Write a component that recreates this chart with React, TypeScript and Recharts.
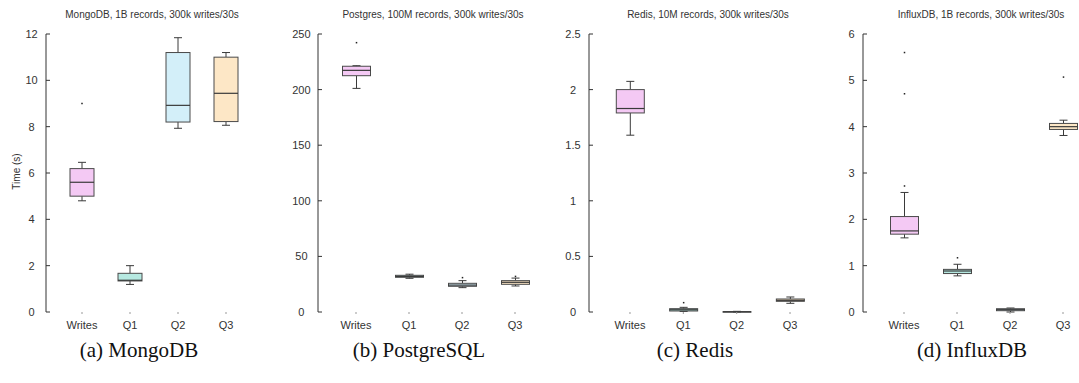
import React from 'react'
import { ComposedChart, Bar, XAxis, YAxis } from 'recharts'

const categories = ['Writes', 'Q1', 'Q2', 'Q3']

// [min, q1, median, q3, max] for each category
const mongoStats = [
  [4.8, 5.0, 5.6, 6.19, 6.46],
  [1.19, 1.34, 1.37, 1.67, 2.0],
  [7.93, 8.2, 8.92, 11.2, 11.84],
  [8.06, 8.22, 9.44, 11.0, 11.2],
]
const mongoOutliers = [[9.0], [], [], []]

const postgresStats = [
  [201.1, 212.5, 217.3, 221.0, 221.5],
  [30.3, 31.2, 32.0, 33.0, 34.0],
  [21.9, 23.1, 24.2, 25.8, 28.2],
  [23.4, 24.9, 26.7, 28.2, 30.5],
]
const postgresOutliers = [[242.2], [], [30.9], [32.0]]

const redisStats = [
  [1.59, 1.79, 1.83, 2.0, 2.074],
  [0.005, 0.009, 0.02, 0.03, 0.042],
  [0.0, 0.001, 0.002, 0.003, 0.006],
  [0.078, 0.096, 0.105, 0.117, 0.135],
]
const redisOutliers = [[], [0.084], [], []]

const influxStats = [
  [1.6, 1.68, 1.75, 2.06, 2.58],
  [0.78, 0.83, 0.885, 0.92, 1.03],
  [0.0, 0.028, 0.05, 0.071, 0.086],
  [3.81, 3.94, 4.0, 4.07, 4.14],
]
const influxOutliers = [[5.6, 4.71, 2.72], [1.17], [], [5.07]]

const mongoTicks = [0, 2, 4, 6, 8, 10, 12]
const postgresTicks = [0, 50, 100, 150, 200, 250]
const redisTicks = [0, 0.5, 1, 1.5, 2, 2.5]
const influxTicks = [0, 1, 2, 3, 4, 5, 6]

const boxColors = ['#f4c9f4', '#b6e9e1', '#d3eff9', '#fde7c6']
const ink = '#3a3a3a'
const font = '"Liberation Sans", Arial, sans-serif'

function toRows(stats: number[][], outliers: number[][]) {
  return categories.map((name, i) => {
    const [min, q1, med, q3, max] = stats[i]
    const all = [min, max, ...outliers[i]]
    return {
      name,
      min,
      q1,
      med,
      q3,
      max,
      outliers: outliers[i],
      lo: Math.min(...all),
      hi: Math.max(...all),
    }
  })
}

const panels = [
  {
    title: 'MongoDB, 1B records, 300k writes/30s',
    caption: '(a) MongoDB',
    rows: toRows(mongoStats, mongoOutliers),
    ticks: mongoTicks,
    left: 0, width: 262, yWidth: 46, pad: 12, barSize: 24, tickMargin: 18.4,
    titleX: 152, captionX: 139,
  },
  {
    title: 'Postgres, 100M records, 300k writes/30s',
    caption: '(b) PostgreSQL',
    rows: toRows(postgresStats, postgresOutliers),
    ticks: postgresTicks,
    left: 270, width: 283, yWidth: 48, pad: 11.5, barSize: 28, tickMargin: 20.6,
    titleX: 433, captionX: 419,
  },
  {
    title: 'Redis, 10M records, 300k writes/30s',
    caption: '(c) Redis',
    rows: toRows(redisStats, redisOutliers),
    ticks: redisTicks,
    left: 540, width: 291, yWidth: 49, pad: 14.3, barSize: 28, tickMargin: 20,
    titleX: 708, captionX: 695,
  },
  {
    title: 'InfluxDB, 1B records, 300k writes/30s',
    caption: '(d) InfluxDB',
    rows: toRows(influxStats, influxOutliers),
    ticks: influxTicks,
    left: 810, width: 294, yWidth: 53, pad: 14.5, barSize: 28, tickMargin: 15.4,
    titleX: 981, captionX: 972,
  },
]

function BoxShape(props: any) {
  const { x, y, width, height, payload, index } = props
  if (!payload) return null
  const top = Math.min(y, y + height)
  const bottom = Math.max(y, y + height)
  const span = payload.hi - payload.lo || 1
  // map a value into the bar's pixel extent, which the y scale already placed
  const py = (v: number) => bottom - ((v - payload.lo) / span) * (bottom - top)
  const cx = x + width / 2
  const cap = 4
  const yq1 = py(payload.q1)
  const yq3 = py(payload.q3)
  return (
    <g>
      <line x1={cx} x2={cx} y1={py(payload.max)} y2={yq3} stroke={ink} strokeWidth={1} />
      <line x1={cx} x2={cx} y1={yq1} y2={py(payload.min)} stroke={ink} strokeWidth={1} />
      <line x1={cx - cap} x2={cx + cap} y1={py(payload.max)} y2={py(payload.max)} stroke={ink} />
      <line x1={cx - cap} x2={cx + cap} y1={py(payload.min)} y2={py(payload.min)} stroke={ink} />
      <rect
        x={x}
        y={yq3}
        width={width}
        height={Math.max(yq1 - yq3, 0.5)}
        fill={boxColors[index % boxColors.length]}
        stroke="#4a4a4a"
        strokeWidth={1}
      />
      <line x1={x} x2={x + width} y1={py(payload.med)} y2={py(payload.med)} stroke={ink} strokeWidth={1.2} />
      {payload.outliers.map((o: number, k: number) => (
        <rect key={k} x={cx - 0.75} y={py(o) - 0.75} width={1.5} height={1.5} fill="#222" />
      ))}
    </g>
  )
}

function YTick(props: any) {
  const { x, y, payload } = props
  return (
    <text x={x} y={y} dy="0.355em" textAnchor="middle" fontSize={11} fill="#333" fontFamily={font}>
      {payload.value}
    </text>
  )
}

export default function App() {
  return (
    <div
      style={{
        position: 'absolute',
        left: 0,
        top: 0,
        width: 1079,
        height: 383,
        overflow: 'hidden',
        background: '#fff',
        fontFamily: font,
      }}
    >
      {panels.map((p) => (
        <div key={p.title} style={{ position: 'absolute', left: p.left, top: 0 }}>
          <ComposedChart
            width={p.width}
            height={340}
            data={p.rows}
            margin={{ top: 34, right: 0, bottom: 0, left: 0 }}
          >
            <XAxis
              dataKey="name"
              axisLine={false}
              tickLine={{ stroke: '#999' }}
              tickSize={2}
              tickMargin={7}
              interval={0}
              height={28}
              padding={{ left: p.pad, right: p.pad }}
              tick={{ fontSize: 11, fill: '#333', fontFamily: font }}
            />
            <YAxis
              type="number"
              width={p.yWidth}
              domain={[p.ticks[0], p.ticks[p.ticks.length - 1]]}
              ticks={p.ticks}
              interval={0}
              axisLine={{ stroke: '#333' }}
              tickLine={{ stroke: '#333' }}
              tickSize={-4}
              tickMargin={p.tickMargin}
              tick={<YTick />}
            />
            <Bar
              dataKey={(d: any) => [d.lo, d.hi]}
              barSize={p.barSize}
              shape={<BoxShape />}
              isAnimationActive={false}
            />
          </ComposedChart>
        </div>
      ))}
      {panels.map((p) => (
        <div
          key={p.title + '-t'}
          style={{
            position: 'absolute',
            left: p.titleX - 150,
            width: 300,
            top: 9,
            textAlign: 'center',
            fontSize: 10,
            color: '#333',
            whiteSpace: 'nowrap',
          }}
        >
          {p.title}
        </div>
      ))}
      <div
        style={{
          position: 'absolute',
          left: 16 - 40,
          top: 173 - 7,
          width: 80,
          textAlign: 'center',
          fontSize: 10,
          color: '#333',
          transform: 'rotate(-90deg)',
        }}
      >
        Time (s)
      </div>
      {panels.map((p) => (
        <div
          key={p.title + '-c'}
          style={{
            position: 'absolute',
            left: p.captionX - 120,
            width: 240,
            top: 338,
            textAlign: 'center',
            fontSize: 21,
            fontFamily: '"Liberation Serif", "DejaVu Serif", serif',
            color: '#111',
            whiteSpace: 'nowrap',
          }}
        >
          {p.caption}
        </div>
      ))}
    </div>
  )
}
